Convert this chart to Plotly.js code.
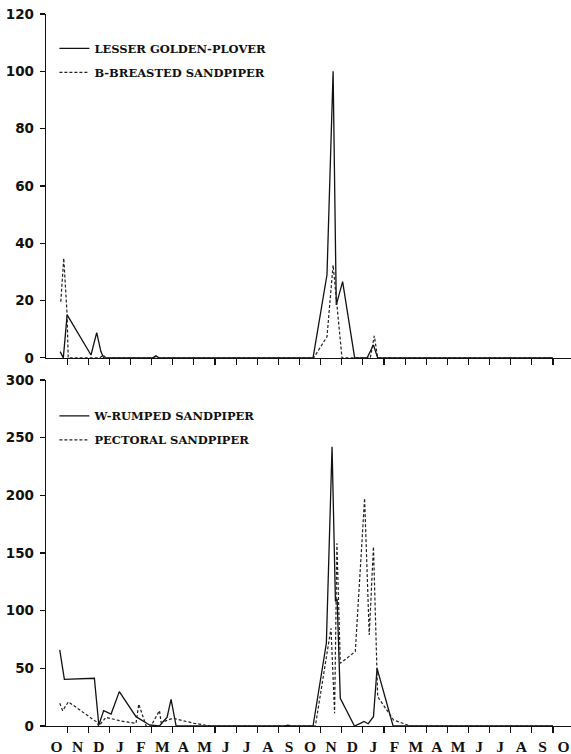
<!DOCTYPE html>
<html>
<head>
<meta charset="utf-8">
<script src="https://cdn.plot.ly/plotly-3.0.1.min.js"></script>
<style>html,body{margin:0;padding:0;background:#fff;}#chart{width:571px;height:754px;}</style>
</head>
<body>
<div id="chart"></div>
<script>
// Month labels (Oct of year 1 through Oct of year 3); x is in months from 1 October
const monthLabels = ['O','N','D','J','F','M','A','M','J','J','A','S','O','N','D','J','F','M','A','M','J','J','A','S','O'];

// Top panel: Lesser Golden-Plover (solid)
const plovX = [0.67, 0.82, 1.0, 2.13, 2.40, 2.6, 2.73, 5.05, 5.2, 5.35, 12.64, 13.3, 13.59, 13.74, 14.04, 14.61, 15.2, 15.5, 15.7, 24.0];
const plovY = [2.2, 0, 15, 1, 8.8, 2.2, 0, 0, 0.7, 0, 0, 29, 100, 18.5, 26.6, 0, 0, 4.5, 0, 0];

// Top panel: Buff-breasted Sandpiper (dashed)
const bbsX = [0.70, 0.84, 1.0, 1.05, 2.55, 2.7, 2.85, 12.67, 13.3, 13.59, 14.01, 15.35, 15.54, 15.7, 24.0];
const bbsY = [19.6, 34.8, 15, 0, 0, 1, 0, 0, 7.4, 32.4, 0, 0, 7.7, 0, 0];

// Bottom panel: White-rumped Sandpiper (solid)
const wrsX = [0.65, 0.87, 2.29, 2.5, 2.73, 3.08, 3.47, 4.26, 4.9, 5.37, 5.6, 5.73, 5.92, 6.16, 11.3, 11.45, 11.6, 12.64, 13.27, 13.54, 13.7, 13.78, 13.93, 14.6, 14.88, 15.05, 15.25, 15.5, 15.67, 16.43, 24.0];
const wrsY = [66, 40.5, 41.4, 0.9, 13.3, 10.4, 29.8, 8.1, 0.9, 0, 5, 7.5, 23, 0, 0, 0.8, 0, 0, 71.7, 242, 108, 110, 24, 0, 2.3, 4, 2, 8, 50, 0, 0];

// Bottom panel: Pectoral Sandpiper (dashed)
const pecX = [0.65, 0.79, 1.06, 2.37, 2.5, 2.84, 3.55, 4.26, 4.39, 4.74, 4.97, 5.37, 5.45, 6.0, 7.02, 7.81, 12.75, 13.49, 13.66, 13.77, 13.93, 14.64, 15.08, 15.3, 15.5, 15.7, 16.45, 17.25, 24.0];
const pecY = [19.7, 13.3, 21, 3.8, 0, 7.5, 4.3, 2.3, 19, 0, 0, 13.3, 3, 6.7, 2.3, 0, 0, 84.7, 11, 158.4, 54.4, 64.5, 197.5, 79, 155.5, 25.4, 5.2, 0, 0];

const labelPos = monthLabels.map((m, i) => i + 0.5);
const boundaries = monthLabels.slice(1).map((m, i) => i + 1);

const solid = {color: '#111', width: 1.3, dash: 'solid'};
const dashed = {color: '#222', width: 1.2, dash: '3px,2px'};

const traces = [
  {x: plovX, y: plovY, xaxis: 'x', yaxis: 'y', mode: 'lines', line: solid, name: 'LESSER GOLDEN-PLOVER', legend: 'legend', legendgroup: 'a'},
  {x: bbsX, y: bbsY, xaxis: 'x', yaxis: 'y', mode: 'lines', line: dashed, name: 'B-BREASTED SANDPIPER', legend: 'legend', legendgroup: 'b'},
  {x: wrsX, y: wrsY, xaxis: 'x2', yaxis: 'y2', mode: 'lines', line: solid, name: 'W-RUMPED SANDPIPER', legend: 'legend2', legendgroup: 'c'},
  {x: pecX, y: pecY, xaxis: 'x2', yaxis: 'y2', mode: 'lines', line: dashed, name: 'PECTORAL SANDPIPER', legend: 'legend2', legendgroup: 'd'}
];

const tickFont = {family: 'DejaVu Sans', size: 13.5, color: '#111', weight: 'bold'};
const monthFont = {family: 'Liberation Serif', size: 15.5, color: '#111', weight: 'bold'};
const legendFont = {family: 'DejaVu Serif', size: 11.5, color: '#111', weight: 'bold'};

function xAxis(anchor, showLabels) {
  return {
    anchor: anchor, domain: [0, 1], range: [0, 24.85],
    showline: true, linecolor: '#111', linewidth: 1.3,
    showgrid: false, zeroline: false,
    tickmode: 'array', tickvals: labelPos, ticktext: monthLabels,
    ticks: '', showticklabels: showLabels, tickfont: monthFont, ticklabelstandoff: 6,
    minor: {tickmode: 'array', tickvals: boundaries, ticks: 'outside', ticklen: 6, tickwidth: 1.1, tickcolor: '#111', showgrid: false},
    fixedrange: true
  };
}
function yAxis(anchor, domain, range, dtick) {
  return {
    anchor: anchor, domain: domain, range: range,
    showline: true, linecolor: '#111', linewidth: 1.3,
    showgrid: false, zeroline: false,
    tickmode: 'linear', tick0: 0, dtick: dtick,
    ticks: 'outside', ticklen: 5, tickwidth: 1.1, tickcolor: '#111',
    tickfont: tickFont, ticklabelstandoff: 3,
    fixedrange: true
  };
}

const legendBase = {
  xref: 'paper', yref: 'paper', xanchor: 'left', yanchor: 'top',
  bgcolor: 'rgba(0,0,0,0)', borderwidth: 0, font: legendFont,
  tracegroupgap: 5, itemwidth: 30
};

const layout = {
  width: 571, height: 754,
  margin: {l: 46, r: 0, t: 14, b: 28},
  paper_bgcolor: '#fff', plot_bgcolor: '#fff',
  showlegend: true,
  xaxis: xAxis('y', false),
  yaxis: yAxis('x', [0.517, 1], [0, 120], 20),
  xaxis2: xAxis('y2', true),
  yaxis2: yAxis('x2', [0, 0.486], [0, 300], 50),
  legend: Object.assign({}, legendBase, {x: 0.016, y: 0.972}),
  legend2: Object.assign({}, legendBase, {x: 0.016, y: 0.456})
};

Plotly.newPlot('chart', traces, layout, {staticPlot: true, displayModeBar: false});
</script>
</body>
</html>
